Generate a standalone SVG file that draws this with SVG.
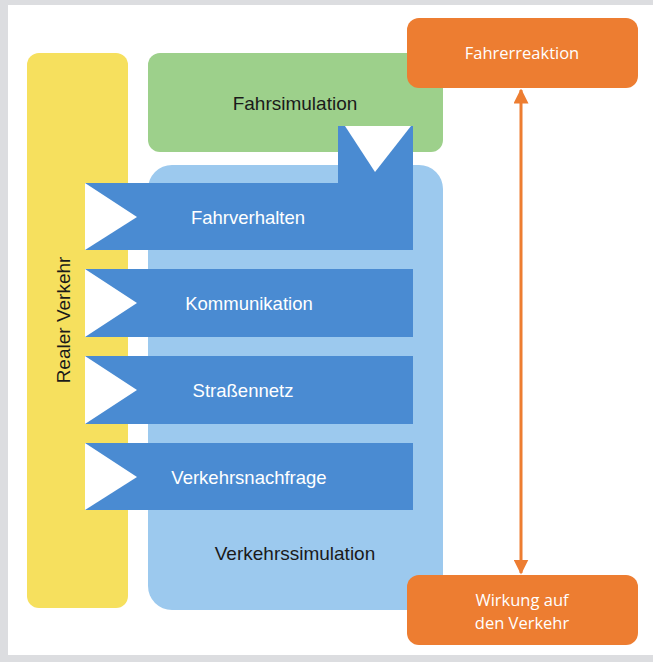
<svg xmlns="http://www.w3.org/2000/svg" width="653" height="662" viewBox="0 0 653 662">
<defs>
<style>
.blk{font-family:"Liberation Sans",Arial,sans-serif;font-size:19px;fill:#1a1a1a;text-anchor:middle}
.wht{font-family:"Liberation Sans",Arial,sans-serif;font-size:18.5px;fill:#ffffff;text-anchor:middle}
.org{font-family:"Open Sans","Liberation Sans",sans-serif;font-size:16.5px;fill:#ffffff;text-anchor:middle}
.band{fill:#4a8bd2}
.tri{fill:#ffffff}
</style>
<marker id="ah" viewBox="0 0 10 10" refX="9" refY="5" markerWidth="5" markerHeight="5" orient="auto-start-reverse" markerUnits="strokeWidth">
<path d="M0,0 L10,5 L0,10 z" fill="#ed7d31"/>
</marker>
</defs>
<rect x="0" y="0" width="653" height="662" fill="#dcdde0"/>
<rect x="8" y="5" width="645" height="650" fill="#ffffff"/>

<g id="realer-verkehr">
<rect x="27" y="53" width="101" height="555" rx="12" fill="#f6e05e"/>
<text class="blk" transform="translate(70,320) rotate(-90)">Realer Verkehr</text>
</g>

<g id="fahrsimulation">
<rect x="148" y="53" width="295" height="99" rx="12" fill="#9dd08b"/>
<text class="blk" x="295" y="110">Fahrsimulation</text>
</g>

<g id="verkehrssimulation">
<rect x="148" y="165" width="295" height="445" rx="24" fill="#9cc9ee"/>
<text class="blk" x="295" y="560">Verkehrssimulation</text>
</g>

<g id="fahrverhalten">
<rect class="band" x="85" y="183" width="328" height="67"/>
<rect class="band" x="338" y="126" width="75" height="60"/>
<polygon class="tri" points="345,126 411,126 375,172"/>
<polygon class="tri" points="85,183 137,217 85,250"/>
<text class="wht" x="248" y="224">Fahrverhalten</text>
</g>

<g id="kommunikation">
<rect class="band" x="85" y="269" width="328" height="68"/>
<polygon class="tri" points="85,269 137,303 85,337"/>
<text class="wht" x="249" y="310">Kommunikation</text>
</g>

<g id="strassennetz">
<rect class="band" x="85" y="356" width="328" height="68"/>
<polygon class="tri" points="85,356 137,390 85,424"/>
<text class="wht" x="243" y="397">Straßennetz</text>
</g>

<g id="verkehrsnachfrage">
<rect class="band" x="85" y="443" width="328" height="67"/>
<polygon class="tri" points="85,443 137,477 85,510"/>
<text class="wht" x="249" y="484">Verkehrsnachfrage</text>
</g>

<g id="fahrerreaktion">
<rect x="407" y="18" width="231" height="70" rx="12" fill="#ed7d31"/>
<text class="org" x="522" y="59">Fahrerreaktion</text>
</g>

<g id="wirkung">
<rect x="407" y="575" width="231" height="70" rx="12" fill="#ed7d31"/>
<text class="org" x="522" y="606">Wirkung auf</text>
<text class="org" x="522" y="629">den Verkehr</text>
</g>

<g id="connectors">
<line x1="521" y1="90" x2="521" y2="573" stroke="#ed7d31" stroke-width="3" marker-start="url(#ah)" marker-end="url(#ah)"/>
</g>
</svg>
